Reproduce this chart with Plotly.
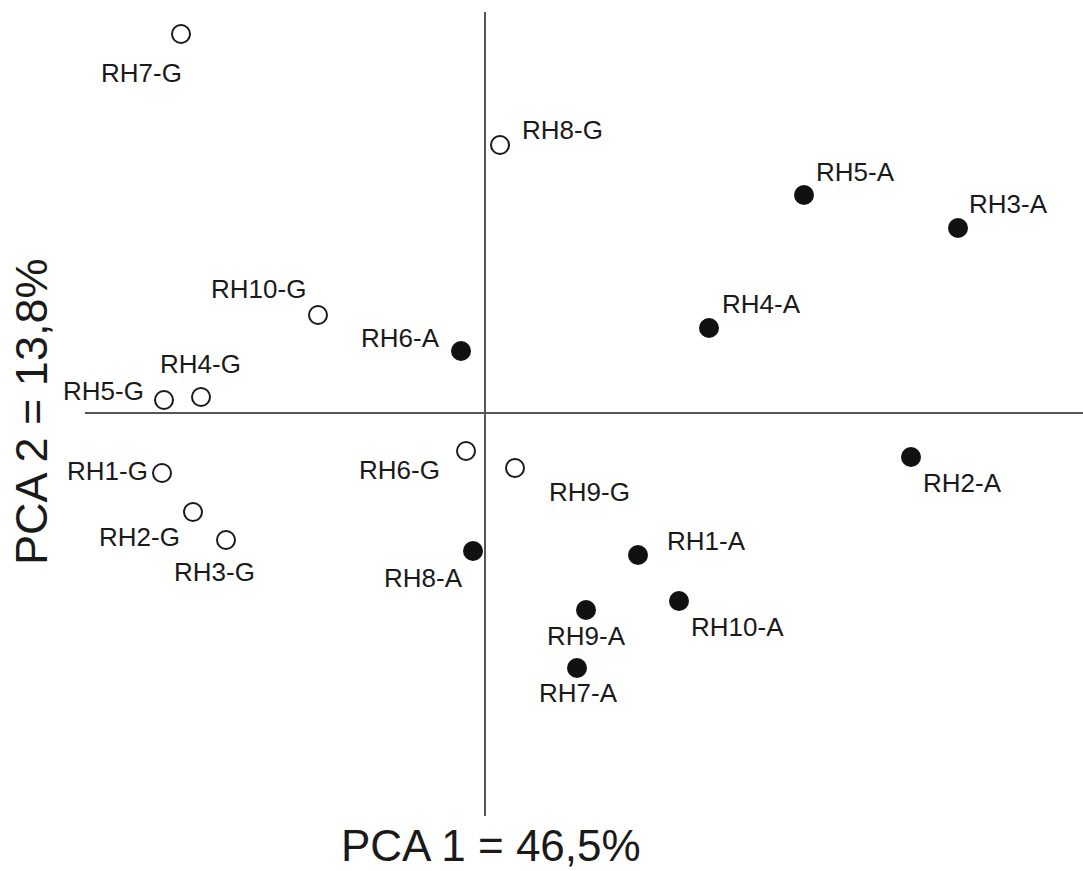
import plotly.graph_objects as go

# PCA scores (arbitrary units, origin at the axis crossing)
g_labels = ["RH1-G", "RH2-G", "RH3-G", "RH4-G", "RH5-G", "RH6-G", "RH7-G", "RH8-G", "RH9-G", "RH10-G"]
g_pc1 = [-3.23, -2.92, -2.59, -2.84, -3.21, -0.19, -3.04, 0.15, 0.30, -1.67]
g_pc2 = [-0.60, -0.99, -1.27, 0.16, 0.13, -0.38, 3.79, 2.68, -0.55, 0.98]

a_labels = ["RH1-A", "RH2-A", "RH3-A", "RH4-A", "RH5-A", "RH6-A", "RH7-A", "RH8-A", "RH9-A", "RH10-A"]
a_pc1 = [1.53, 4.26, 4.73, 2.24, 3.19, -0.24, 0.92, -0.12, 1.01, 1.94]
a_pc2 = [-1.42, -0.44, 1.85, 0.85, 2.18, 0.62, -2.55, -1.38, -1.97, -1.88]

x_title = "PCA 1 = 46,5%"
y_title = "PCA 2 = 13,8%"

# label offsets in pixels (dx right, dy down) - layout only
g_off = [(-55, -2), (-54, 25), (-12, 32), (-1, -33), (-61, -9), (-67, 19), (-40, 39), (62, -15), (74, 24), (-60, -26)]
a_off = [(68, -14), (51, 26), (50, -24), (52, -24), (51, -23), (-61, -13), (1, 25), (-50, 27), (0, 26), (58, 26)]

FONT = "Liberation Sans, Arial, sans-serif"
TXT = "#1a1a1a"

fig = go.Figure()
fig.add_trace(go.Scatter(
    x=g_pc1, y=g_pc2, mode="markers",
    marker=dict(symbol="circle", size=18, color="white", line=dict(color="#1a1a1a", width=2)),
    showlegend=False, hoverinfo="text", text=g_labels))
fig.add_trace(go.Scatter(
    x=a_pc1, y=a_pc2, mode="markers",
    marker=dict(symbol="circle", size=20, color="#111111", line=dict(width=0)),
    showlegend=False, hoverinfo="text", text=a_labels))

ann = []
for lab, x, y, (dx, dy) in list(zip(g_labels, g_pc1, g_pc2, g_off)) + list(zip(a_labels, a_pc1, a_pc2, a_off)):
    ann.append(dict(x=x, y=y, xref="x", yref="y", text=lab, showarrow=False,
                    xshift=dx, yshift=-dy, xanchor="center", yanchor="middle",
                    font=dict(family=FONT, size=26, color=TXT)))

ann.append(dict(x=491 / 1083, y=0, xref="paper", yref="paper", text=x_title,
                showarrow=False, xanchor="center", yanchor="bottom", borderpad=0,
                font=dict(family=FONT, size=44, color=TXT)))
ann.append(dict(x=31 / 1083, y=1 - 412 / 871, xref="paper", yref="paper", text=y_title,
                showarrow=False, xanchor="center", yanchor="middle", textangle=-90,
                font=dict(family=FONT, size=45, color=TXT)))

shapes = [
    dict(type="line", xref="x", yref="y", x0=-4.00, x1=5.98, y0=0, y1=0,
         line=dict(color="#555555", width=2)),
    dict(type="line", xref="x", yref="y", x0=0, x1=0, y0=4.01, y1=-4.03,
         line=dict(color="#555555", width=2)),
]

fig.update_layout(
    width=1083, height=871,
    margin=dict(l=0, r=0, t=0, b=0, pad=0),
    paper_bgcolor="white", plot_bgcolor="white",
    xaxis=dict(range=[-4.85, 5.98], visible=False, fixedrange=True),
    yaxis=dict(range=[-4.58, 4.13], visible=False, fixedrange=True),
    annotations=ann, shapes=shapes,
)
fig.write_html("out.html")
